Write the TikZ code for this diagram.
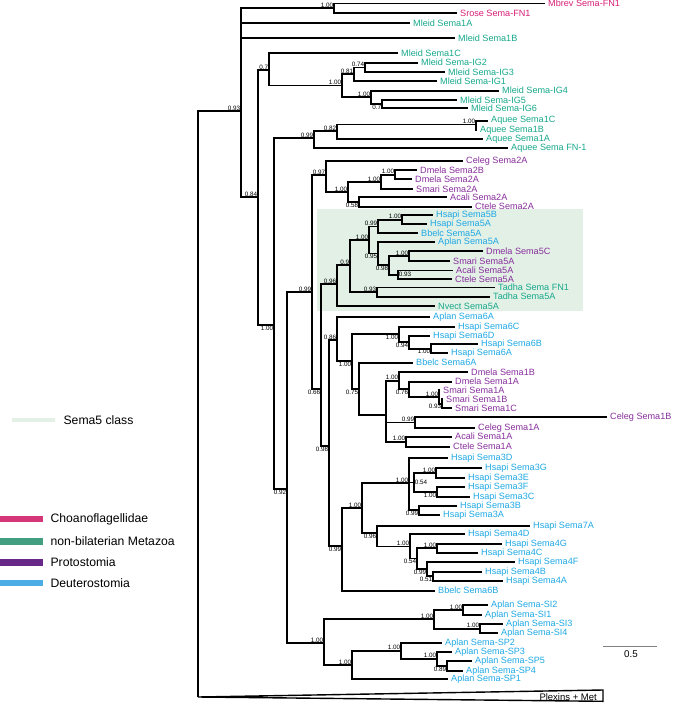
\documentclass[tikz,border=0pt]{standalone}
\usepackage{fontspec}
\setmainfont{Liberation Sans}
\usepackage{xcolor}
\usepackage{tikz}
\usetikzlibrary{positioning}

\definecolor{choano}{RGB}{216,30,118}
\definecolor{metazoa}{RGB}{22,168,138}
\definecolor{proto}{RGB}{136,46,156}
\definecolor{deutero}{RGB}{30,168,228}
\definecolor{choanobar}{RGB}{212,54,120}
\definecolor{metazoabar}{RGB}{66,158,128}
\definecolor{protobar}{RGB}{104,40,136}
\definecolor{deuterobar}{RGB}{76,172,230}
\definecolor{semafive}{RGB}{226,240,230}

\begin{document}
\begin{tikzpicture}[x=1pt, y=-1pt,
  branch/.style={line width=1.7pt, black},
  leaf/.style={anchor=west, inner xsep=3pt, inner ysep=0pt, font=\fontsize{9.1}{10}\selectfont},
  choleaf/.style={leaf, text=choano},
  metleaf/.style={leaf, text=metazoa},
  proleaf/.style={leaf, text=proto},
  deuleaf/.style={leaf, text=deutero},
  supp/.style={inner sep=0.6pt, font=\fontsize{6.3}{7}\selectfont},
  keybox/.style={rectangle, minimum width=43pt, minimum height=6.5pt, inner sep=0pt, anchor=west},
  keytext/.style={inner sep=0pt, font=\fontsize{12.2}{14}\selectfont}
]
\useasboundingbox (0,0) rectangle (672,703);

% Sema5 class shading
\fill[semafive] (317,209) rectangle (583,311);

% Leaves: Choanoflagellidae and non-bilaterian Metazoa
\node[choleaf] (mbrev) at (545,3.5) {Mbrev Sema-FN1};
\node[choleaf] (srose) at (457,13) {Srose Sema-FN1};
\node[metleaf] (ml1a) at (410,23) {Mleid Sema1A};
\node[metleaf] (ml1b) at (455,38) {Mleid Sema1B};
\node[metleaf] (ml1c) at (398,53.3) {Mleid Sema1C};
\node[metleaf] (mig2) at (418,62.7) {Mleid Sema-IG2};
\node[metleaf] (mig3) at (445,72.3) {Mleid Sema-IG3};
\node[metleaf] (mig1) at (437,81) {Mleid Sema-IG1};
\node[metleaf] (mig4) at (499,90.7) {Mleid Sema-IG4};
\node[metleaf] (mig5) at (457,100) {Mleid Sema-IG5};
\node[metleaf] (mig6) at (468,108.3) {Mleid Sema-IG6};
\node[metleaf] (aq1c) at (488,120.7) {Aquee Sema1C};
\node[metleaf] (aq1b) at (477,130) {Aquee Sema1B};
\node[metleaf] (aq1a) at (483,139.3) {Aquee Sema1A};
\node[metleaf] (aqfn) at (508,148.3) {Aquee Sema FN-1};

% Leaves: Sema2
\node[proleaf] (ce2a) at (463,160.7) {Celeg Sema2A};
\node[proleaf] (dm2b) at (417,170) {Dmela Sema2B};
\node[proleaf] (dm2a) at (412,179.3) {Dmela Sema2A};
\node[proleaf] (sm2a) at (413,189) {Smari Sema2A};
\node[proleaf] (ac2a) at (447,197.3) {Acali Sema2A};
\node[proleaf] (ct2a) at (472,206.7) {Ctele Sema2A};

% Leaves: Sema5
\node[deuleaf] (hs5b) at (433,215) {Hsapi Sema5B};
\node[deuleaf] (hs5a) at (427,224) {Hsapi Sema5A};
\node[deuleaf] (bb5a) at (418,232.8) {Bbelc Sema5A};
\node[deuleaf] (ap5a) at (435,242.3) {Aplan Sema5A};
\node[proleaf] (dm5c) at (483,251) {Dmela Sema5C};
\node[proleaf] (sm5a) at (450,261) {Smari Sema5A};
\node[proleaf] (ac5a) at (453,270.5) {Acali Sema5A};
\node[proleaf] (ct5a) at (452,279.3) {Ctele Sema5A};
\node[metleaf] (tfn1) at (495,287.5) {Tadha Sema FN1};
\node[metleaf] (t5a) at (490,296.7) {Tadha Sema5A};
\node[metleaf] (nv5a) at (435,306) {Nvect Sema5A};

% Leaves: Sema6 and Sema1
\node[deuleaf] (ap6a) at (430,316.7) {Aplan Sema6A};
\node[deuleaf] (hs6c) at (455,326.7) {Hsapi Sema6C};
\node[deuleaf] (hs6d) at (430,335.7) {Hsapi Sema6D};
\node[deuleaf] (hs6b) at (478,344) {Hsapi Sema6B};
\node[deuleaf] (hs6a) at (448,353.3) {Hsapi Sema6A};
\node[deuleaf] (bb6a) at (413,362.7) {Bbelc Sema6A};
\node[proleaf] (dm1b) at (468,372.3) {Dmela Sema1B};
\node[proleaf] (dm1a) at (452,381.7) {Dmela Sema1A};
\node[proleaf] (sm1a) at (440,390) {Smari Sema1A};
\node[proleaf] (sm1b) at (443,399) {Smari Sema1B};
\node[proleaf] (sm1c) at (452,408.3) {Smari Sema1C};
\node[proleaf] (ce1b) at (607,417.3) {Celeg Sema1B};
\node[proleaf] (ce1a) at (475,427.7) {Celeg Sema1A};
\node[proleaf] (ac1a) at (452,436.7) {Acali Sema1A};
\node[proleaf] (ct1a) at (450,446.7) {Ctele Sema1A};

% Leaves: Sema3, Sema7, Sema4
\node[deuleaf] (hs3d) at (448,458.3) {Hsapi Sema3D};
\node[deuleaf] (hs3g) at (482,468.3) {Hsapi Sema3G};
\node[deuleaf] (hs3e) at (465,477.7) {Hsapi Sema3E};
\node[deuleaf] (hs3f) at (465,487.3) {Hsapi Sema3F};
\node[deuleaf] (hs3c) at (470,496.7) {Hsapi Sema3C};
\node[deuleaf] (hs3b) at (457,505.7) {Hsapi Sema3B};
\node[deuleaf] (hs3a) at (440,515) {Hsapi Sema3A};
\node[deuleaf] (hs7a) at (530,525.7) {Hsapi Sema7A};
\node[deuleaf] (hs4d) at (465,534.3) {Hsapi Sema4D};
\node[deuleaf] (hs4g) at (502,544) {Hsapi Sema4G};
\node[deuleaf] (hs4c) at (478,552.7) {Hsapi Sema4C};
\node[deuleaf] (hs4f) at (515,561.7) {Hsapi Sema4F};
\node[deuleaf] (hs4b) at (482,571.7) {Hsapi Sema4B};
\node[deuleaf] (hs4a) at (503,580.7) {Hsapi Sema4A};
\node[deuleaf] (bb6b) at (435,590.7) {Bbelc Sema6B};

% Leaves: Sema-SI and Sema-SP
\node[deuleaf] (si2) at (488,605) {Aplan Sema-SI2};
\node[deuleaf] (si1) at (482,615) {Aplan Sema-SI1};
\node[deuleaf] (si3) at (503,624) {Aplan Sema-SI3};
\node[deuleaf] (si4) at (498,633.3) {Aplan Sema-SI4};
\node[deuleaf] (sp2) at (442,642.7) {Aplan Sema-SP2};
\node[deuleaf] (sp3) at (452,651.7) {Aplan Sema-SP3};
\node[deuleaf] (sp5) at (472,661) {Aplan Sema-SP5};
\node[deuleaf] (sp4) at (463,670.7) {Aplan Sema-SP4};
\node[deuleaf] (sp1) at (448,679) {Aplan Sema-SP1};

% Internal nodes and support values
\coordinate (root) at (198,400);
\coordinate (plx) at (198,697);
\coordinate (n093) at (241,111); \node[supp, above left] (l093) at (n093) {0.93};
\coordinate (nch) at (334,8); \node[supp, above left] (lch) at (nch) {1.00};
\coordinate (n084) at (258,197); \node[supp, above left] (l084) at (n084) {0.84};
\coordinate (n07) at (269,70); \node[supp, above left] (l07) at (n07) {0.7};
\coordinate (nig) at (342,85.5); \node[supp, above left] (lig) at (nig) {1.00};
\coordinate (n081) at (354,74); \node[supp, above left] (l081) at (n081) {0.81};
\coordinate (n074) at (365,67.5); \node[supp, above left] (l074) at (n074) {0.74};
\coordinate (n100ig) at (371,97); \node[supp, above left] (l100ig) at (n100ig) {1.00};
\coordinate (n07ig) at (382,104); \node[supp, below left] (l07ig) at (n07ig) {0.7};
\coordinate (n100a) at (274,325); \node[supp, below left] (l100a) at (n100a) {1.00};
\coordinate (n099aq) at (314,138); \node[supp, above left] (l099aq) at (n099aq) {0.99};
\coordinate (n082) at (337,131); \node[supp, above left] (l082) at (n082) {0.82};
\coordinate (n100aq) at (476,124.5); \node[supp, above left] (l100aq) at (n100aq) {1.00};
\coordinate (n092) at (287,489); \node[supp, below left] (l092) at (n092) {0.92};
\coordinate (n099b) at (312,292); \node[supp, above left] (l099b) at (n099b) {0.99};
\coordinate (n097) at (326,175); \node[supp, above left] (l097) at (n097) {0.97};
\coordinate (n100s2) at (348,192); \node[supp, above left] (l100s2) at (n100s2) {1.00};
\coordinate (n100dm2) at (381,182); \node[supp, above left] (l100dm2) at (n100dm2) {1.00};
\coordinate (n100dmb) at (395,174.7); \node[supp, above left] (l100dmb) at (n100dmb) {1.00};
\coordinate (n058) at (359,202); \node[supp, below left] (l058) at (n058) {0.58};
\coordinate (n066) at (321,389); \node[supp, below left] (l066) at (n066) {0.66};
\coordinate (n096) at (337,284); \node[supp, above left] (l096) at (n096) {0.96};
\coordinate (n09) at (350,265); \node[supp, above left] (l09) at (n09) {0.9};
\coordinate (n100s5) at (369,240); \node[supp, above left] (l100s5) at (n100s5) {1.00};
\coordinate (n099s5) at (378,226.5); \node[supp, above left] (l099s5) at (n099s5) {0.99};
\coordinate (n100hs5) at (402,219.7); \node[supp, above left] (l100hs5) at (n100hs5) {1.00};
\coordinate (n095) at (378,253.5); \node[supp, below left] (l095) at (n095) {0.95};
\coordinate (n098s5) at (389,265.3); \node[supp, below left] (l098s5) at (n098s5) {0.98};
\coordinate (n100dm5) at (409,256); \node[supp, above left] (l100dm5) at (n100dm5) {1.00};
\coordinate (n093ac5) at (398,274.8); \node[supp, right] (l093ac5) at (n093ac5) {0.93};
\coordinate (n093t) at (377,292); \node[supp, above left] (l093t) at (n093t) {0.93};
\coordinate (n098) at (329,446); \node[supp, below left] (l098) at (n098) {0.98};
\coordinate (n086) at (337,340); \node[supp, above left] (l086) at (n086) {0.86};
\coordinate (n100s6) at (352,361); \node[supp, below left] (l100s6) at (n100s6) {1.00};
\coordinate (n100h6) at (399,334); \node[supp, below left] (l100h6) at (n100h6) {1.00};
\coordinate (n094) at (409,342); \node[supp, below left] (l094) at (n094) {0.94};
\coordinate (n100h6b) at (431,348.7); \node[supp, below left] (l100h6b) at (n100h6b) {1.00};
\coordinate (n075) at (359,389); \node[supp, below left] (l075) at (n075) {0.75};
\coordinate (ns1) at (386,415);
\coordinate (n100d1) at (399,380.7); \node[supp, above left] (l100d1) at (n100d1) {1.00};
\coordinate (n076) at (409,389); \node[supp, below left] (l076) at (n076) {0.76};
\coordinate (n100sm1) at (439,397); \node[supp, above left] (l100sm1) at (n100sm1) {1.00};
\coordinate (n093sm) at (442,403.7); \node[supp, below left] (l093sm) at (n093sm) {0.93};
\coordinate (n099ce) at (415,422.5); \node[supp, above left] (l099ce) at (n099ce) {0.99};
\coordinate (n100ac1) at (406,441.7); \node[supp, above left] (l100ac1) at (n100ac1) {1.00};
\coordinate (n099c) at (342,546); \node[supp, below left] (l099c) at (n099c) {0.99};
\coordinate (n100c) at (362,508); \node[supp, above left] (l100c) at (n100c) {1.00};
\coordinate (n100s3) at (409,483); \node[supp, above left] (l100s3) at (n100s3) {1.00};
\coordinate (n054s3) at (414,482.5); \node[supp, right] (l054s3) at (n054s3) {0.54};
\coordinate (n100s3g) at (436,473); \node[supp, above left] (l100s3g) at (n100s3g) {1.00};
\coordinate (n100s3f) at (437,492); \node[supp, below left] (l100s3f) at (n100s3f) {1.00};
\coordinate (n099s3) at (419,510.3); \node[supp, below left] (l099s3) at (n099s3) {0.99};
\coordinate (n096s4) at (377,533); \node[supp, below left] (l096s4) at (n096s4) {0.96};
\coordinate (n100s4) at (410,546.5); \node[supp, above left] (l100s4) at (n100s4) {1.00};
\coordinate (n054s4) at (417,558.6); \node[supp, below left] (l054s4) at (n054s4) {0.54};
\coordinate (n100s4g) at (437,548.3); \node[supp, above left] (l100s4g) at (n100s4g) {1.00};
\coordinate (n099s4) at (427,569); \node[supp, below left] (l099s4) at (n099s4) {0.99};
\coordinate (n051) at (433,576.2); \node[supp, below left] (l051) at (n051) {0.51};
\coordinate (nsi) at (324,643); \node[supp, above left] (lsi) at (nsi) {1.00};
\coordinate (n100si) at (434,619); \node[supp, above left] (l100si) at (n100si) {1.00};
\coordinate (n100si12) at (463,610); \node[supp, above left] (l100si12) at (n100si12) {1.00};
\coordinate (n100si34) at (480,628.7); \node[supp, above left] (l100si34) at (n100si34) {1.00};
\coordinate (n100sp1) at (352,665); \node[supp, above left] (l100sp1) at (n100sp1) {1.00};
\coordinate (n100sp2) at (401,650.7); \node[supp, above left] (l100sp2) at (n100sp2) {1.00};
\coordinate (n100sp3) at (437,658.7); \node[supp, above left] (l100sp3) at (n100sp3) {1.00};
\coordinate (n089) at (447,665.8); \node[supp, below left] (l089) at (n089) {0.89};

% Branches
\draw[branch] (root) |- (n093) (root) -- (plx);
\draw[branch] (n093) |- (nch) (n093) |- (ml1a.west) (n093) |- (ml1b.west) (n093) |- (n084);
\draw[branch] (nch) |- (mbrev.west) (nch) |- (srose.west);
\draw[branch] (n084) |- (n07) (n084) |- (n100a);
\draw[branch] (n07) |- (ml1c.west) (n07) |- (nig);
\draw[branch] (nig) |- (n081) (nig) |- (n100ig);
\draw[branch] (n081) |- (n074) (n081) |- (mig1.west);
\draw[branch] (n074) |- (mig2.west) (n074) |- (mig3.west);
\draw[branch] (n100ig) |- (mig4.west) (n100ig) |- (n07ig);
\draw[branch] (n07ig) |- (mig5.west) (n07ig) |- (mig6.west);
\draw[branch] (n100a) |- (n099aq) (n100a) |- (n092);
\draw[branch] (n099aq) |- (n082) (n099aq) |- (aqfn.west);
\draw[branch] (n082) |- (n100aq) (n082) |- (aq1a.west);
\draw[branch] (n100aq) |- (aq1c.west) (n100aq) |- (aq1b.west);
\draw[branch] (n092) |- (n099b) (n092) |- (nsi);
\draw[branch] (n099b) |- (n097) (n099b) |- (n066);
\draw[branch] (n097) |- (ce2a.west) (n097) |- (n100s2);
\draw[branch] (n100s2) |- (n100dm2) (n100s2) |- (n058);
\draw[branch] (n100dm2) |- (n100dmb) (n100dm2) |- (sm2a.west);
\draw[branch] (n100dmb) |- (dm2b.west) (n100dmb) |- (dm2a.west);
\draw[branch] (n058) |- (ac2a.west) (n058) |- (ct2a.west);
\draw[branch] (n066) |- (n096) (n066) |- (n098);
\draw[branch] (n096) |- (n09) (n096) |- (nv5a.west);
\draw[branch] (n09) |- (n100s5) (n09) |- (n093t);
\draw[branch] (n100s5) |- (n099s5) (n100s5) |- (n095);
\draw[branch] (n099s5) |- (n100hs5) (n099s5) |- (bb5a.west);
\draw[branch] (n100hs5) |- (hs5b.west) (n100hs5) |- (hs5a.west);
\draw[branch] (n095) |- (ap5a.west) (n095) |- (n098s5);
\draw[branch] (n098s5) |- (n100dm5) (n098s5) |- (n093ac5);
\draw[branch] (n100dm5) |- (dm5c.west) (n100dm5) |- (sm5a.west);
\draw[branch] (n093ac5) |- (ac5a.west) (n093ac5) |- (ct5a.west);
\draw[branch] (n093t) |- (tfn1.west) (n093t) |- (t5a.west);
\draw[branch] (n098) |- (n086) (n098) |- (n099c);
\draw[branch] (n086) |- (ap6a.west) (n086) |- (n100s6);
\draw[branch] (n100s6) |- (n100h6) (n100s6) |- (n075);
\draw[branch] (n100h6) |- (hs6c.west) (n100h6) |- (n094);
\draw[branch] (n094) |- (hs6d.west) (n094) |- (n100h6b);
\draw[branch] (n100h6b) |- (hs6b.west) (n100h6b) |- (hs6a.west);
\draw[branch] (n075) |- (bb6a.west) (n075) |- (ns1);
\draw[branch] (ns1) |- (n100d1) (ns1) |- (n099ce) (ns1) |- (n100ac1);
\draw[branch] (n100d1) |- (dm1b.west) (n100d1) |- (n076);
\draw[branch] (n076) |- (dm1a.west) (n076) |- (n100sm1);
\draw[branch] (n100sm1) |- (sm1a.west) (n100sm1) |- (n093sm);
\draw[branch] (n093sm) |- (sm1b.west) (n093sm) |- (sm1c.west);
\draw[branch] (n099ce) |- (ce1b.west) (n099ce) |- (ce1a.west);
\draw[branch] (n100ac1) |- (ac1a.west) (n100ac1) |- (ct1a.west);
\draw[branch] (n099c) |- (n100c) (n099c) |- (bb6b.west);
\draw[branch] (n100c) |- (n100s3) (n100c) |- (n096s4);
\draw[branch] (n100s3) |- (hs3d.west) (n100s3) |- (n054s3) (n100s3) |- (n099s3);
\draw[branch] (n054s3) |- (n100s3g) (n054s3) |- (n100s3f);
\draw[branch] (n100s3g) |- (hs3g.west) (n100s3g) |- (hs3e.west);
\draw[branch] (n100s3f) |- (hs3f.west) (n100s3f) |- (hs3c.west);
\draw[branch] (n099s3) |- (hs3b.west) (n099s3) |- (hs3a.west);
\draw[branch] (n096s4) |- (hs7a.west) (n096s4) |- (n100s4);
\draw[branch] (n100s4) |- (hs4d.west) (n100s4) |- (n054s4);
\draw[branch] (n054s4) |- (n100s4g) (n054s4) |- (n099s4);
\draw[branch] (n100s4g) |- (hs4g.west) (n100s4g) |- (hs4c.west);
\draw[branch] (n099s4) |- (hs4f.west) (n099s4) |- (n051);
\draw[branch] (n051) |- (hs4b.west) (n051) |- (hs4a.west);
\draw[branch] (nsi) |- (n100si) (nsi) |- (n100sp1);
\draw[branch] (n100si) |- (n100si12) (n100si) |- (n100si34);
\draw[branch] (n100si12) |- (si2.west) (n100si12) |- (si1.west);
\draw[branch] (n100si34) |- (si3.west) (n100si34) |- (si4.west);
\draw[branch] (n100sp1) |- (n100sp2) (n100sp1) |- (sp1.west);
\draw[branch] (n100sp2) |- (sp2.west) (n100sp2) |- (n100sp3);
\draw[branch] (n100sp3) |- (sp3.west) (n100sp3) |- (n089);
\draw[branch] (n089) |- (sp5.west) (n089) |- (sp4.west);

% Collapsed Plexins + Met clade
\coordinate (plxtop) at (603,690);
\coordinate (plxbot) at (603,701.3);
\draw[line width=1.4pt] (plx) -- (plxtop) -- (plxbot) -- cycle;
\node[anchor=east, inner sep=0pt, font=\fontsize{9.5}{10}\selectfont] (plxlab) at (597,697) {Plexins + Met};

% Scale bar
\coordinate (sbl) at (603,646);
\coordinate (sbr) at (657,646);
\draw[gray, line width=1pt] (sbl) -- (sbr);
\node[inner sep=0pt, font=\fontsize{9.8}{11}\selectfont] (sblab) at (631,654) {0.5};

% Legend
\node[keybox, fill=semafive, minimum height=3.5pt] (k5) at (12,420) {};
\node[keytext, right=8pt of k5] (t5) {Sema5 class};
\node[keybox, fill=choanobar] (kch) at (0,519) {};
\node[keytext, right=7pt of kch] (tch) {Choanoflagellidae};
\node[keybox, fill=metazoabar] (kmz) at (0,541.5) {};
\node[keytext, right=7pt of kmz] (tmz) {non-bilaterian Metazoa};
\node[keybox, fill=protobar] (kpr) at (0,562.5) {};
\node[keytext, right=7pt of kpr] (tpr) {Protostomia};
\node[keybox, fill=deuterobar] (kde) at (0,583) {};
\node[keytext, right=7pt of kde] (tde) {Deuterostomia};

\end{tikzpicture}
\end{document}
